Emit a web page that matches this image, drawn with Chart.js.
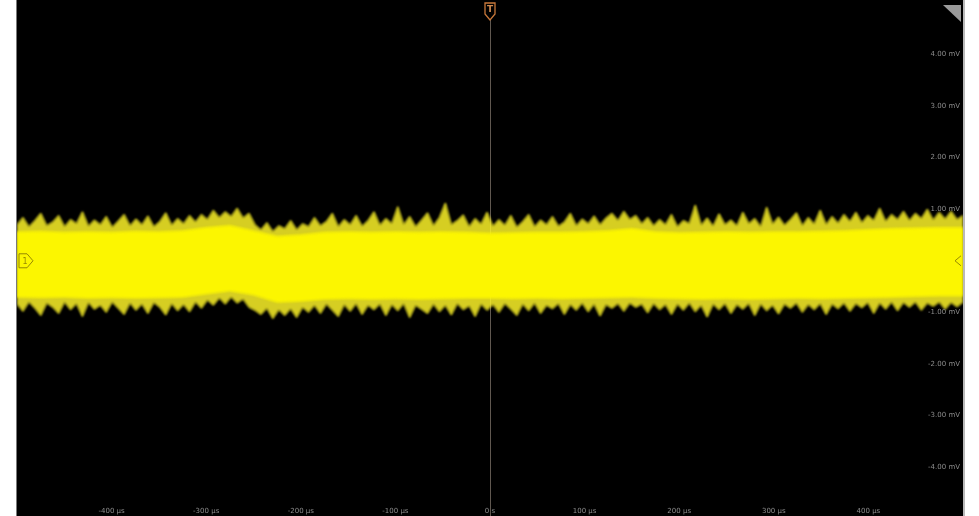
<!DOCTYPE html>
<html>
<head>
<meta charset="utf-8">
<script src="https://cdn.jsdelivr.net/npm/chart.js@4/dist/chart.umd.min.js"></script>
<style>
  html, body { margin: 0; padding: 0; background: #fff; }
  #wrap { width: 979px; height: 516px; position: relative; }
</style>
</head>
<body>
<div id="wrap"><canvas id="scope"></canvas></div>
<script>
// time base: 100 us/div, 10 divisions; vertical: 1 mV/div
const timeStart = -500;
const timeEnd = 500;

const xTickValues = [-400, -300, -200, -100, 0, 100, 200, 300, 400];
const xTickLabels = ['-400 µs', '-300 µs', '-200 µs', '-100 µs', '0 s', '100 µs', '200 µs', '300 µs', '400 µs'];
const yTickValues = [4, 3, 2, 1, -1, -2, -3, -4];
const yTickLabels = ['4.00 mV', '3.00 mV', '2.00 mV', '1.00 mV', '-1.00 mV', '-2.00 mV', '-3.00 mV', '-4.00 mV'];

// dense core of the noise band (mV)
const coreUpper = [0.56, 0.57, 0.55, 0.56, 0.55, 0.57, 0.56, 0.58, 0.64, 0.68,
  0.58, 0.47, 0.50, 0.55, 0.56, 0.55, 0.56, 0.55, 0.56, 0.55,
  0.53, 0.54, 0.55, 0.55, 0.56, 0.58, 0.62, 0.56, 0.54, 0.55,
  0.56, 0.55, 0.56, 0.56, 0.57, 0.58, 0.60, 0.62, 0.63, 0.64, 0.64];
const coreLower = [-0.70, -0.71, -0.70, -0.72, -0.71, -0.72, -0.71, -0.70, -0.64, -0.58,
  -0.66, -0.80, -0.78, -0.74, -0.73, -0.74, -0.73, -0.74, -0.73, -0.72,
  -0.72, -0.73, -0.72, -0.73, -0.72, -0.71, -0.70, -0.72, -0.73, -0.74,
  -0.73, -0.74, -0.73, -0.72, -0.73, -0.72, -0.71, -0.70, -0.69, -0.68, -0.68];

// peak envelope including the spikes (mV)
const peakUpper = [
  0.70, 0.84, 0.66, 0.78, 0.92, 0.68, 0.75, 0.88, 0.66, 0.80,
  0.72, 0.95, 0.67, 0.79, 0.70, 0.86, 0.65, 0.77, 0.90, 0.68,
  0.81, 0.70, 0.87, 0.66, 0.76, 0.93, 0.69, 0.82, 0.72, 0.88,
  0.75, 0.90, 0.80, 0.98, 0.84, 0.95, 0.86, 1.02, 0.83, 0.92,
  0.70, 0.60, 0.74, 0.57, 0.68, 0.62, 0.78, 0.60, 0.72, 0.66,
  0.84, 0.68, 0.76, 0.92, 0.66, 0.80, 0.70, 0.88, 0.67, 0.78,
  0.95, 0.69, 0.82, 0.72, 1.05, 0.70, 0.86, 0.66, 0.79, 0.93,
  0.68, 0.84, 1.12, 0.70, 0.78, 0.89, 0.66, 0.82, 0.71, 0.94,
  0.67, 0.80, 0.69, 0.88, 0.65, 0.76, 0.90, 0.66, 0.79, 0.70,
  0.86, 0.67, 0.75, 0.92, 0.68, 0.81, 0.72, 0.87, 0.70, 0.83,
  0.92, 0.78, 0.96, 0.80, 0.88, 0.72, 0.84, 0.68, 0.80, 0.70,
  0.90, 0.66, 0.78, 0.72, 1.08, 0.69, 0.83, 0.67, 0.91, 0.70,
  0.79, 0.68, 0.94, 0.72, 0.82, 0.66, 1.04, 0.71, 0.85, 0.69,
  0.80, 0.93, 0.68, 0.84, 0.71, 0.98, 0.70, 0.86, 0.73, 0.90,
  0.76, 0.94, 0.74, 0.88, 0.78, 1.02, 0.76, 0.90, 0.80, 0.96,
  0.78, 0.92, 0.82, 1.00, 0.79, 0.94, 0.81, 0.96, 0.80, 0.88];
const peakLower = [
  -0.84, -0.98, -0.80, -0.92, -1.06, -0.82, -0.90, -1.02, -0.80, -0.95,
  -0.83, -1.08, -0.81, -0.94, -0.86, -1.00, -0.80, -0.92, -1.04, -0.82,
  -0.96, -0.84, -1.02, -0.81, -0.90, -1.05, -0.83, -0.97, -0.85, -0.99,
  -0.80, -0.92, -0.76, -0.86, -0.72, -0.84, -0.70, -0.82, -0.74, -0.90,
  -0.96, -1.04, -0.92, -1.12, -0.95, -1.06, -0.93, -1.10, -0.90, -1.00,
  -0.86, -1.02, -0.84, -0.96, -1.08, -0.85, -0.98, -0.83, -1.04, -0.86,
  -0.95, -0.84, -1.06, -0.85, -0.97, -0.83, -1.10, -0.86, -0.94, -1.02,
  -0.84, -0.99, -0.86, -1.05, -0.83, -0.95, -0.87, -1.08, -0.84, -0.96,
  -0.85, -1.00, -0.83, -0.94, -1.06, -0.84, -0.97, -0.82, -1.02, -0.86,
  -0.93, -0.83, -1.04, -0.85, -0.96, -0.82, -0.99, -0.84, -1.07, -0.85,
  -0.92, -0.83, -0.98, -0.82, -0.90, -0.84, -1.01, -0.83, -0.95, -0.85,
  -1.04, -0.84, -0.96, -0.82, -0.99, -0.86, -1.09, -0.84, -0.95, -0.83,
  -1.02, -0.85, -0.94, -0.83, -1.06, -0.84, -0.97, -0.86, -1.03, -0.84,
  -0.92, -0.82, -1.00, -0.85, -0.95, -0.83, -1.04, -0.84, -0.93, -0.82,
  -0.98, -0.83, -0.91, -0.81, -1.02, -0.82, -0.94, -0.80, -0.97, -0.81,
  -0.90, -0.80, -0.96, -0.82, -0.88, -0.80, -0.94, -0.81, -0.89, -0.80];

// samples are evenly spaced over the screen
function toPoints(values) {
  const step = (timeEnd - timeStart) / (values.length - 1);
  return values.map((v, i) => ({ x: timeStart + i * step, y: v }));
}

const YELLOW = 'rgb(252, 246, 0)';
const FRINGE = 'rgba(255, 246, 40, 0.84)';

const scopeDecor = {
  id: 'scopeDecor',
  beforeDraw(chart) {
    const { ctx, chartArea: a, scales } = chart;
    ctx.save();
    ctx.fillStyle = '#000';
    ctx.fillRect(a.left, 0, a.right - a.left, chart.height);
    // frame edges
    ctx.fillStyle = '#7a7a7a';
    ctx.fillRect(a.left - 1, 0, 1, chart.height);
    ctx.fillStyle = '#b9b9b9';
    ctx.fillRect(a.right, 0, 2, chart.height);
    // trigger position line
    const cx = Math.round(scales.x.getPixelForValue(0)) + 0.5;
    ctx.strokeStyle = 'rgba(120, 110, 100, 0.8)';
    ctx.lineWidth = 1;
    ctx.beginPath();
    ctx.moveTo(cx, 20);
    ctx.lineTo(cx, chart.height);
    ctx.stroke();
    ctx.restore();
  },
  beforeDatasetsDraw(chart) {
    // soften the trace like the phosphor-style display
    chart.ctx.save();
    chart.ctx.filter = 'blur(1px)';
  },
  afterDatasetsDraw(chart) {
    chart.ctx.restore();
  },
  afterDraw(chart) {
    const { ctx, chartArea: a, scales } = chart;
    ctx.save();
    // time labels along the bottom
    ctx.font = '7px "DejaVu Sans"';
    ctx.fillStyle = '#8c8c8c';
    ctx.textAlign = 'center';
    ctx.textBaseline = 'bottom';
    xTickValues.forEach((v, i) => {
      ctx.fillText(xTickLabels[i], scales.x.getPixelForValue(v), chart.height - 1);
    });
    // voltage labels along the right edge
    ctx.textAlign = 'right';
    ctx.textBaseline = 'middle';
    yTickValues.forEach((v, i) => {
      ctx.fillText(yTickLabels[i], a.right - 3, scales.y.getPixelForValue(v));
    });
    // trigger marker
    const cx = scales.x.getPixelForValue(0);
    ctx.strokeStyle = '#c8783a';
    ctx.lineWidth = 1.3;
    ctx.beginPath();
    ctx.moveTo(cx - 5, 3);
    ctx.lineTo(cx + 5, 3);
    ctx.lineTo(cx + 5, 14);
    ctx.lineTo(cx, 20);
    ctx.lineTo(cx - 5, 14);
    ctx.closePath();
    ctx.stroke();
    ctx.fillStyle = '#d08a50';
    ctx.font = 'bold 9px "DejaVu Sans"';
    ctx.textAlign = 'center';
    ctx.fillText('T', cx, 10);
    // channel 1 ground marker on the left
    const gy = scales.y.getPixelForValue(0);
    ctx.strokeStyle = 'rgba(140, 125, 0, 0.9)';
    ctx.lineWidth = 1;
    ctx.beginPath();
    ctx.moveTo(a.left + 2, gy - 7);
    ctx.lineTo(a.left + 10, gy - 7);
    ctx.lineTo(a.left + 16, gy);
    ctx.lineTo(a.left + 10, gy + 7);
    ctx.lineTo(a.left + 2, gy + 7);
    ctx.closePath();
    ctx.stroke();
    ctx.fillStyle = 'rgba(140, 125, 0, 0.9)';
    ctx.font = '8px "DejaVu Sans"';
    ctx.fillText('1', a.left + 8, gy + 1);
    // trigger level marker on the right
    ctx.beginPath();
    ctx.moveTo(a.right - 2, gy - 5);
    ctx.lineTo(a.right - 8, gy);
    ctx.lineTo(a.right - 2, gy + 5);
    ctx.stroke();
    // corner tab
    ctx.fillStyle = '#9a9a9a';
    ctx.beginPath();
    ctx.moveTo(a.right - 20, 5);
    ctx.lineTo(a.right - 2, 5);
    ctx.lineTo(a.right - 2, 22);
    ctx.closePath();
    ctx.fill();
    ctx.restore();
  }
};

new Chart(document.getElementById('scope'), {
  type: 'line',
  data: {
    datasets: [
      { data: toPoints(coreUpper), borderColor: YELLOW, backgroundColor: YELLOW, borderWidth: 1, fill: { target: 1 } },
      { data: toPoints(coreLower), borderColor: YELLOW, borderWidth: 1, fill: false },
      { data: toPoints(peakUpper), borderColor: FRINGE, backgroundColor: FRINGE, borderWidth: 1, fill: { target: 3 } },
      { data: toPoints(peakLower), borderColor: FRINGE, borderWidth: 1, fill: false }
    ]
  },
  options: {
    responsive: true,
    maintainAspectRatio: false,
    animation: false,
    elements: { point: { radius: 0 }, line: { tension: 0 } },
    layout: { padding: { left: 17, right: 16, top: 3, bottom: 0 } },
    plugins: { legend: { display: false }, tooltip: { enabled: false } },
    scales: {
      x: { type: 'linear', min: timeStart, max: timeEnd, display: false },
      y: { type: 'linear', min: -4.95, max: 5, display: false }
    }
  },
  plugins: [scopeDecor]
});
</script>
</body>
</html>
